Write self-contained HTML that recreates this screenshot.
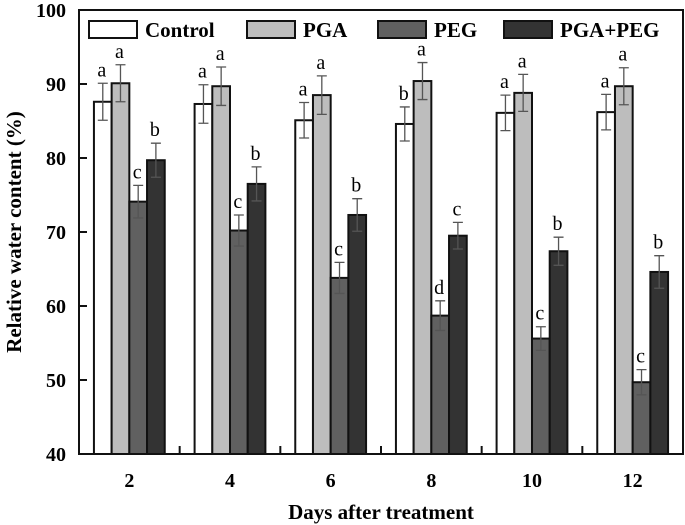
<!DOCTYPE html>
<html><head><meta charset="utf-8"><style>
body{margin:0;background:#fff}
svg{display:block;font-family:"Liberation Serif",serif}
</style></head><body>
<svg id="chart" width="685" height="525" viewBox="0 0 685 525" xmlns="http://www.w3.org/2000/svg"></svg>
<script>
const categories=["2","4","6","8","10","12"];
const seriesNames=["Control","PGA","PEG","PGA+PEG"];
const control=[87.6,87.3,85.1,84.6,86.1,86.2];
const pga=[90.1,89.7,88.5,90.4,88.8,89.7];
const peg=[74.1,70.2,63.8,58.7,55.6,49.7];
const pgapeg=[79.7,76.5,72.3,69.5,67.4,64.6];
const errControl=[2.5,2.6,2.4,2.3,2.4,2.4];
const errPga=[2.5,2.6,2.6,2.5,2.5,2.5];
const errPeg=[2.2,2.1,2.1,2.0,1.6,1.7];
const errPgapeg=[2.3,2.3,2.2,1.8,1.9,2.2];
const lettersControl=["a","a","a","b","a","a"];
const lettersPga=["a","a","a","a","a","a"];
const lettersPeg=["c","c","c","d","c","c"];
const lettersPgapeg=["b","b","b","c","b","b"];
const yTicks=[40,50,60,70,80,90,100];

const svg=document.getElementById('chart');
const NS="http://www.w3.org/2000/svg";
const L=79,R=683,T=10,B=454,yMin=40,yMax=100;
const gw=(R-L)/categories.length, bw=17.7;
const fills=["#ffffff","#bdbdbd","#606060","#333333"];
const vals=[control,pga,peg,pgapeg], errs=[errControl,errPga,errPeg,errPgapeg], lets=[lettersControl,lettersPga,lettersPeg,lettersPgapeg];
function y(v){return B-(v-yMin)/(yMax-yMin)*(B-T);}
function el(tag,a,parent){const e=document.createElementNS(NS,tag);for(const k in a)e.setAttribute(k,a[k]);(parent||svg).appendChild(e);return e;}
for(let i=0;i<categories.length;i++){
  const cx=L+gw*(i+0.5);
  for(let s=0;s<4;s++){
    const x=cx-2*bw+s*bw, v=vals[s][i], e=errs[s][i];
    const r=el('rect',{x:x,y:y(v),width:bw,height:B-y(v),fill:fills[s],stroke:'#111','stroke-width':2});
    
    
    const mx=x+bw/2;
    const eb=el('path',{d:`M${mx},${y(v+e)}V${y(v-e)}M${mx-5},${y(v+e)}H${mx+5}M${mx-5},${y(v-e)}H${mx+5}`,stroke:'#555','stroke-width':1.3,fill:'none'});
    
    
    const t=el('text',{x:mx-1,y:y(v+e)-7,'text-anchor':'middle','font-size':20});
    t.textContent=lets[s][i];
    
    
  }
  const tl=el('text',{x:cx,y:B+33,'text-anchor':'middle','font-size':20,'font-weight':'bold'});
  tl.textContent=categories[i];
  
  
  if(i>0){const tk=el('line',{x1:L+gw*i,x2:L+gw*i,y1:B,y2:B-8,stroke:'#111','stroke-width':2});
    
    }
}
yTicks.forEach(v=>{
  const tk=el('line',{x1:L,x2:L+8,y1:y(v),y2:y(v),stroke:'#111','stroke-width':2});
  
  
  const t=el('text',{x:L-13,y:y(v)+7,'text-anchor':'end','font-size':20,'font-weight':'bold'});
  t.textContent=v;
  
  
});
const fr=el('rect',{x:L,y:T,width:R-L,height:B-T,fill:'none',stroke:'#111','stroke-width':2});


const lx=[89,247,378,504];
seriesNames.forEach((n,s)=>{
  const g=el('g',{});
  
  
  el('rect',{x:lx[s],y:21,width:48,height:17,fill:fills[s],stroke:'#111','stroke-width':2},g);
  const t=el('text',{x:lx[s]+56,y:37,'font-size':21,'font-weight':'bold'},g);
  t.textContent=n;
});
const xt=el('text',{x:381,y:519,'text-anchor':'middle','font-size':21,'font-weight':'bold'});
xt.textContent="Days after treatment";


const yt=el('text',{x:0,y:0,'text-anchor':'middle','font-size':21,'font-weight':'bold',transform:`translate(21,${(T+B)/2}) rotate(-90)`});
yt.textContent="Relative water content (%)";


</script>
</body></html>
